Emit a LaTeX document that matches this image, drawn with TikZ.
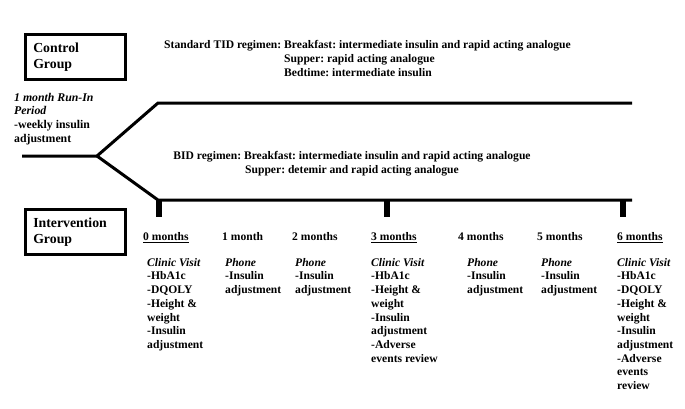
\documentclass[tikz,border=0pt]{standalone}
\usepackage{fontspec}
\setmainfont{Liberation Serif}
\frenchspacing
\begin{document}
\begin{tikzpicture}[x=1pt,y=-1pt]
    \tikzstyle{txt}=[anchor=north west,inner sep=0pt,align=left,font=\bfseries\fontsize{11.6}{13.7}\selectfont]
    \tikzstyle{grp}=[anchor=north west,draw=black,line width=2.5pt,minimum width=100pt,minimum height=45pt,inner xsep=8pt,inner ysep=0pt,align=left,text width=84pt,font=\bfseries\fontsize{13.8}{16}\selectfont]
    \tikzstyle{arm}=[line width=3pt,line join=miter]
    \tikzstyle{tick}=[line width=6pt]
    \useasboundingbox (0,0) rectangle (685,408);
    \node[grp] (ctrl) at (24,33) {Control\\Group};
    \node[grp] (intv) at (24,208) {Intervention\\Group};
    \node[txt,font=\bfseries\fontsize{11.8}{13.6}\selectfont] (runin) at (14,93) {\textit{1 month Run-In}\\\textit{Period}\\-weekly insulin\\adjustment};
    \node[txt] (tid) at (164,39) {\begin{tabular}{@{}l@{ }l@{}}Standard TID regimen: & Breakfast: intermediate insulin and rapid acting analogue\\ & Supper: rapid acting analogue\\ & Bedtime: intermediate insulin\end{tabular}};
    \node[txt,align=center,anchor=north] (bid) at (352,151) {BID regimen: Breakfast: intermediate insulin and rapid acting analogue\\Supper: detemir and rapid acting analogue};
    \coordinate (start) at (22,156);
    \coordinate (fork) at (97,156);
    \coordinate (upl) at (158,103);
    \coordinate (upr) at (632,103);
    \coordinate (lol) at (158,200);
    \coordinate (lor) at (632,200);
    \draw[arm] (start) -- (fork) -- (upl) -- (upr);
    \draw[arm] (fork) -- (lol) -- (lor);
    \draw[tick] (159,200) -- (159,217);
    \draw[tick] (387,200) -- (387,217);
    \draw[tick] (623,200) -- (623,217);
    \node[txt] (m0) at (143,232) {\underline{0 months}};
    \node[txt] (m1) at (222,232) {1 month};
    \node[txt] (m2) at (292,232) {2 months};
    \node[txt] (m3) at (371,232) {\underline{3 months}};
    \node[txt] (m4) at (458,232) {4 months};
    \node[txt] (m5) at (537,232) {5 months};
    \node[txt] (m6) at (617,232) {\underline{6 months}};
    \node[txt] (v0) at (147,258) {\textit{Clinic Visit}\\-HbA1c\\-DQOLY\\-Height \&\\weight\\-Insulin\\adjustment};
    \node[txt] (v1) at (225,258) {\textit{Phone}\\-Insulin\\adjustment};
    \node[txt] (v2) at (295,258) {\textit{Phone}\\-Insulin\\adjustment};
    \node[txt] (v3) at (371,258) {\textit{Clinic Visit}\\-HbA1c\\-Height \&\\weight\\-Insulin\\adjustment\\-Adverse\\events review};
    \node[txt] (v4) at (467,258) {\textit{Phone}\\-Insulin\\adjustment};
    \node[txt] (v5) at (541,258) {\textit{Phone}\\-Insulin\\adjustment};
    \node[txt] (v6) at (617,258) {\textit{Clinic Visit}\\-HbA1c\\-DQOLY\\-Height \&\\weight\\-Insulin\\adjustment\\-Adverse\\events\\review};
\end{tikzpicture}
\end{document}
